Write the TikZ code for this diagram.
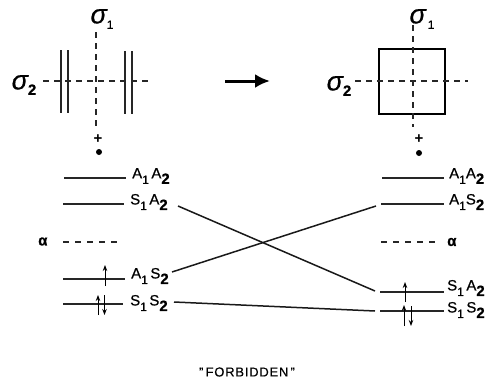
\documentclass[tikz,border=0pt]{standalone}
\usepackage{fontspec}
\usetikzlibrary{arrows.meta}
\setmainfont{Liberation Sans}
\newcommand{\dn}[1]{\raisebox{-5.5pt}{\fontsize{15}{16}\selectfont\bfseries #1}}
\newcommand{\dnthin}[1]{\raisebox{-5.5pt}{\fontsize{12}{13}\selectfont #1}}
\begin{document}
\begin{tikzpicture}[x=1pt,y=-1pt,
  level/.style={line width=1.2pt,black!85},
  corr/.style={line width=1.5pt,black!90},
  symline/.style={line width=1.2pt,black!85,dash pattern=on 6pt off 5pt},
  plate/.style={line width=1.2pt,black!85},
  lab/.style={inner sep=0pt,anchor=west,font=\fontsize{15}{16}\selectfont\addfontfeature{FakeBold=0.6}},
  sig/.style={inner sep=0pt,font=\fontsize{27}{28}\selectfont\itshape\addfontfeature{FakeBold=0.6}},
  elec/.style={line width=1pt,-{Stealth[length=6pt,width=4.5pt]}}]
\useasboundingbox (0,0) rectangle (485,378);
\fill[white] (0,0) rectangle (485,378);
% left geometry
\node[sig] (s1l) at (102,19) {σ\hspace{0pt}\dnthin{\upshape 1}};
\node[sig] (s2l) at (24,85) {σ\dn{\upshape 2}};
\coordinate (vlt) at (96,32); \coordinate (vlb) at (96,129);
\coordinate (hll) at (43,81); \coordinate (hlr) at (150,81);
\draw[symline] (vlt) -- (vlb);
\draw[symline] (hll) -- (hlr);
\foreach \x in {61,68}{\draw[plate] (\x,50) -- (\x,113);}
\foreach \x in {125,132}{\draw[plate] (\x,51) -- (\x,114);}
\node[inner sep=0pt,font=\fontsize{15}{15}\selectfont\bfseries] (pl) at (98,139.5) {+};
\node[circle,fill=black,inner sep=0pt,minimum size=6pt] (dl) at (99,152) {};
% reaction arrow
\coordinate (ra) at (225,81); \coordinate (rb) at (270,81);
\draw[line width=3pt,-{Latex[length=15pt,width=14pt]}] (ra) -- (rb);
% right geometry
\node[sig] (s1r) at (422,19) {σ\hspace{2pt}\dnthin{\upshape 1}};
\node[sig] (s2r) at (339,86) {σ\dn{\upshape 2}};
\node[draw,line width=1.7pt,minimum width=66pt,minimum height=65pt,inner sep=0pt] (sq) at (412,81.5) {};
\coordinate (vrt) at (413,25); \coordinate (vrb) at (413,127);
\coordinate (hrl) at (355,81); \coordinate (hrr) at (468,81);
\draw[symline] (vrt) -- (vrb);
\draw[symline] (hrl) -- (hrr);
\node[inner sep=0pt,font=\fontsize{15}{15}\selectfont\bfseries] (pr) at (419,139.5) {+};
\node[circle,fill=black,inner sep=0pt,minimum size=6pt] (dr) at (419,153) {};
% left levels
\draw[level] (64,178) -- (126,178);
\node[lab] (la1) at (132,176) {A\dnthin{1}\,A\dn{2}};
\draw[level] (63,204) -- (124,204);
\node[lab] (la2) at (130,202) {S\dnthin{1}\,A\dn{2}};
\draw[level,dash pattern=on 6pt off 6pt] (63,242) -- (119,242);
\node[lab] (la3) at (38,241.5) {\bfseries α};
\draw[level] (63,279) -- (125,279);
\node[lab] (la4) at (131,276) {A\dnthin{1}\,S\dn{2}};
\draw[level] (63,304) -- (123,304);
\node[lab] (la5) at (130,303) {S\dnthin{1}\,S\dn{2}};
\draw[elec] (105,286) -- (105,265);
\draw[elec] (98,315) -- (98,295);
\draw[elec] (104.5,295) -- (104.5,315);
% right levels
\draw[level] (382,178) -- (444,178);
\node[lab] (ra1) at (449,176) {A\dnthin{1}A\dn{2}};
\draw[level] (381,204) -- (444,204);
\node[lab] (ra2) at (449,202) {A\dnthin{1}S\dn{2}};
\draw[level,dash pattern=on 6pt off 6pt] (381,242) -- (438,242);
\node[lab] (ra3) at (447,242) {\bfseries α};
\draw[level] (380,292) -- (444,292);
\node[lab] (ra4) at (447,288) {S\dnthin{1}\,A\dn{2}};
\draw[level] (380,311) -- (444,311);
\node[lab] (ra5) at (447,310) {S\dnthin{1}\,S\dn{2}};
\draw[elec] (405,302) -- (405,282);
\draw[elec] (404,326) -- (404,305);
\draw[elec] (411,306) -- (411,326);
% correlation lines
\coordinate (c2l) at (178,206); \coordinate (c2r) at (375,291);
\coordinate (c4l) at (172,272); \coordinate (c4r) at (376,206);
\coordinate (c5l) at (174,302); \coordinate (c5r) at (375,311);
\draw[corr] (c2l) -- (c2r);
\draw[corr] (c4l) -- (c4r);
\draw[corr] (c5l) -- (c5r);
\node[inner sep=0pt,font=\fontsize{13}{14}\selectfont\addfontfeature{LetterSpace=6,FakeBold=0.3}] (fb) at (247,372) {"\,FORBIDDEN\,"};
\end{tikzpicture}
\end{document}
